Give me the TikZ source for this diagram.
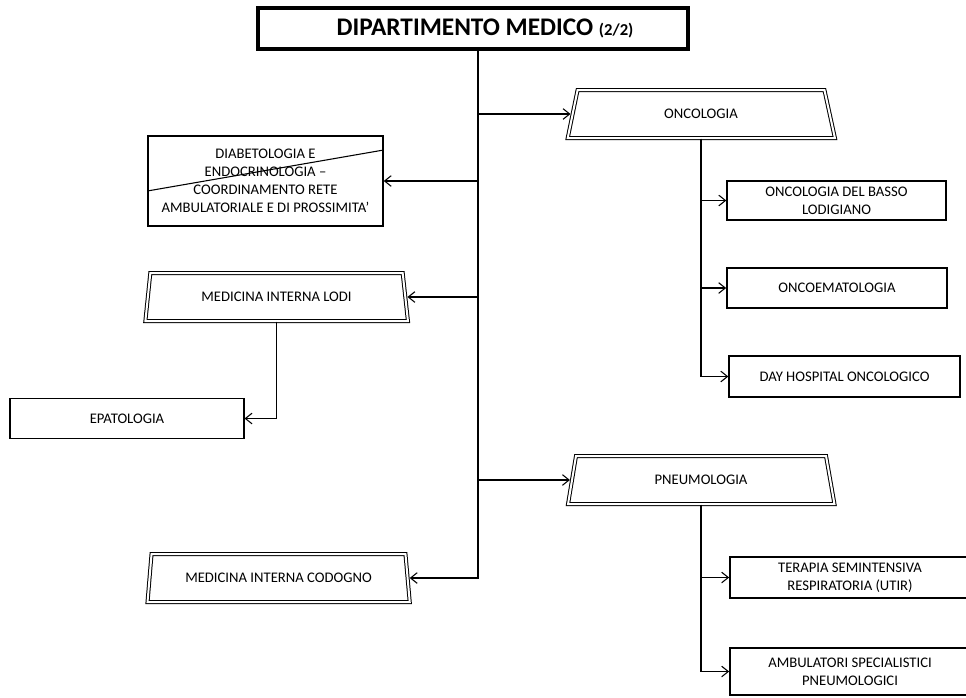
\documentclass[tikz,border=0pt]{standalone}
\usepackage{fontspec}
\setmainfont{Carlito}
\usetikzlibrary{shapes.geometric,arrows.meta}
\begin{document}
\begin{tikzpicture}[x=0.75pt,y=-0.75pt,
  lbl/.style={font=\fontsize{11}{13.4}\selectfont, align=center},
  unit/.style={lbl, draw, line width=1.3pt, inner sep=0pt},
  group/.style={lbl, trapezium, trapezium left angle=73, trapezium right angle=72,
    trapezium stretches=true, draw, line width=0.75pt, double, double distance=1.5pt,
    inner sep=0pt},
  link/.style={line width=0.8pt},
  arr/.style={link, -{Straight Barb[length=5pt,width=8pt]}},
  arrg/.style={arr, shorten >=1.2pt}]

\useasboundingbox (0,0) rectangle (966,697);

% department header
\node[unit, line width=2.4pt, minimum width=322.5pt, minimum height=30.75pt] (dept) at (473,28.5)
  {\hspace*{18pt}\fontsize{19}{23}\selectfont\bfseries DIPARTIMENTO MEDICO \fontsize{12.5}{14}\selectfont(2/2)};

% complex units (double-lined trapezia)
\node[group, minimum width=201pt, minimum height=36pt] (onc) at (701,114) {ONCOLOGIA};
\node[group, minimum width=201pt, minimum height=36pt] (pneu) at (701,480) {PNEUMOLOGIA};
\node[group, minimum width=197pt, minimum height=36pt] (lodi) at (276.5,297) {MEDICINA INTERNA LODI};
\node[group, minimum width=197pt, minimum height=36pt] (codogno) at (278.5,578) {MEDICINA INTERNA CODOGNO};

% simple units
\node[unit, minimum width=176pt, minimum height=67.5pt] (diab) at (265.5,181)
  {DIABETOLOGIA E\\ENDOCRINOLOGIA –\\COORDINAMENTO RETE\\AMBULATORIALE E DI PROSSIMITA’};
\draw[line width=0.8pt] ([yshift=-7.5pt]diab.west) -- ([yshift=23.25pt]diab.east);

\node[unit, minimum width=175pt, minimum height=30pt] (epa) at (127,418.5) {EPATOLOGIA};
\node[unit, minimum width=164pt, minimum height=29pt] (basso) at (836.5,200.5) {ONCOLOGIA DEL BASSO\\LODIGIANO};
\node[unit, minimum width=165pt, minimum height=30pt] (oncoem) at (837,288) {ONCOEMATOLOGIA};
\node[unit, minimum width=173pt, minimum height=30.75pt] (day) at (844.5,376.5) {DAY HOSPITAL ONCOLOGICO};
\node[unit, minimum width=180pt, minimum height=30.75pt] (utir) at (850,577.5) {TERAPIA SEMINTENSIVA\\RESPIRATORIA (UTIR)};
\node[unit, minimum width=180pt, minimum height=35pt] (amb) at (850,671.5) {AMBULATORI SPECIALISTICI\\PNEUMOLOGICI};

% main trunk
\coordinate (trunk) at ([xshift=3.75pt]dept.south);
\draw[arrg] (trunk) -- (trunk |- codogno.east) -- (codogno.east);
\draw[arrg] (trunk |- onc.west) -- (onc.west);
\draw[arr] (trunk |- diab.east) -- (diab.east);
\draw[arrg] (trunk |- lodi.east) -- (lodi.east);
\draw[arrg] (trunk |- pneu.west) -- (pneu.west);

% oncology branch
\draw[link] (onc.south) -- (onc.south |- day.west);
\draw[arr] (onc.south |- basso.west) -- (basso.west);
\draw[arr] (onc.south |- oncoem.west) -- (oncoem.west);
\draw[arr] (onc.south |- day.west) -- (day.west);

% internal medicine Lodi branch
\draw[arr] (lodi.south) -- (lodi.south |- epa.east) -- (epa.east);

% pneumology branch
\draw[link] (pneu.south) -- (pneu.south |- amb.west);
\draw[arr] (pneu.south |- utir.west) -- (utir.west);
\draw[arr] (pneu.south |- amb.west) -- (amb.west);
\end{tikzpicture}
\end{document}
